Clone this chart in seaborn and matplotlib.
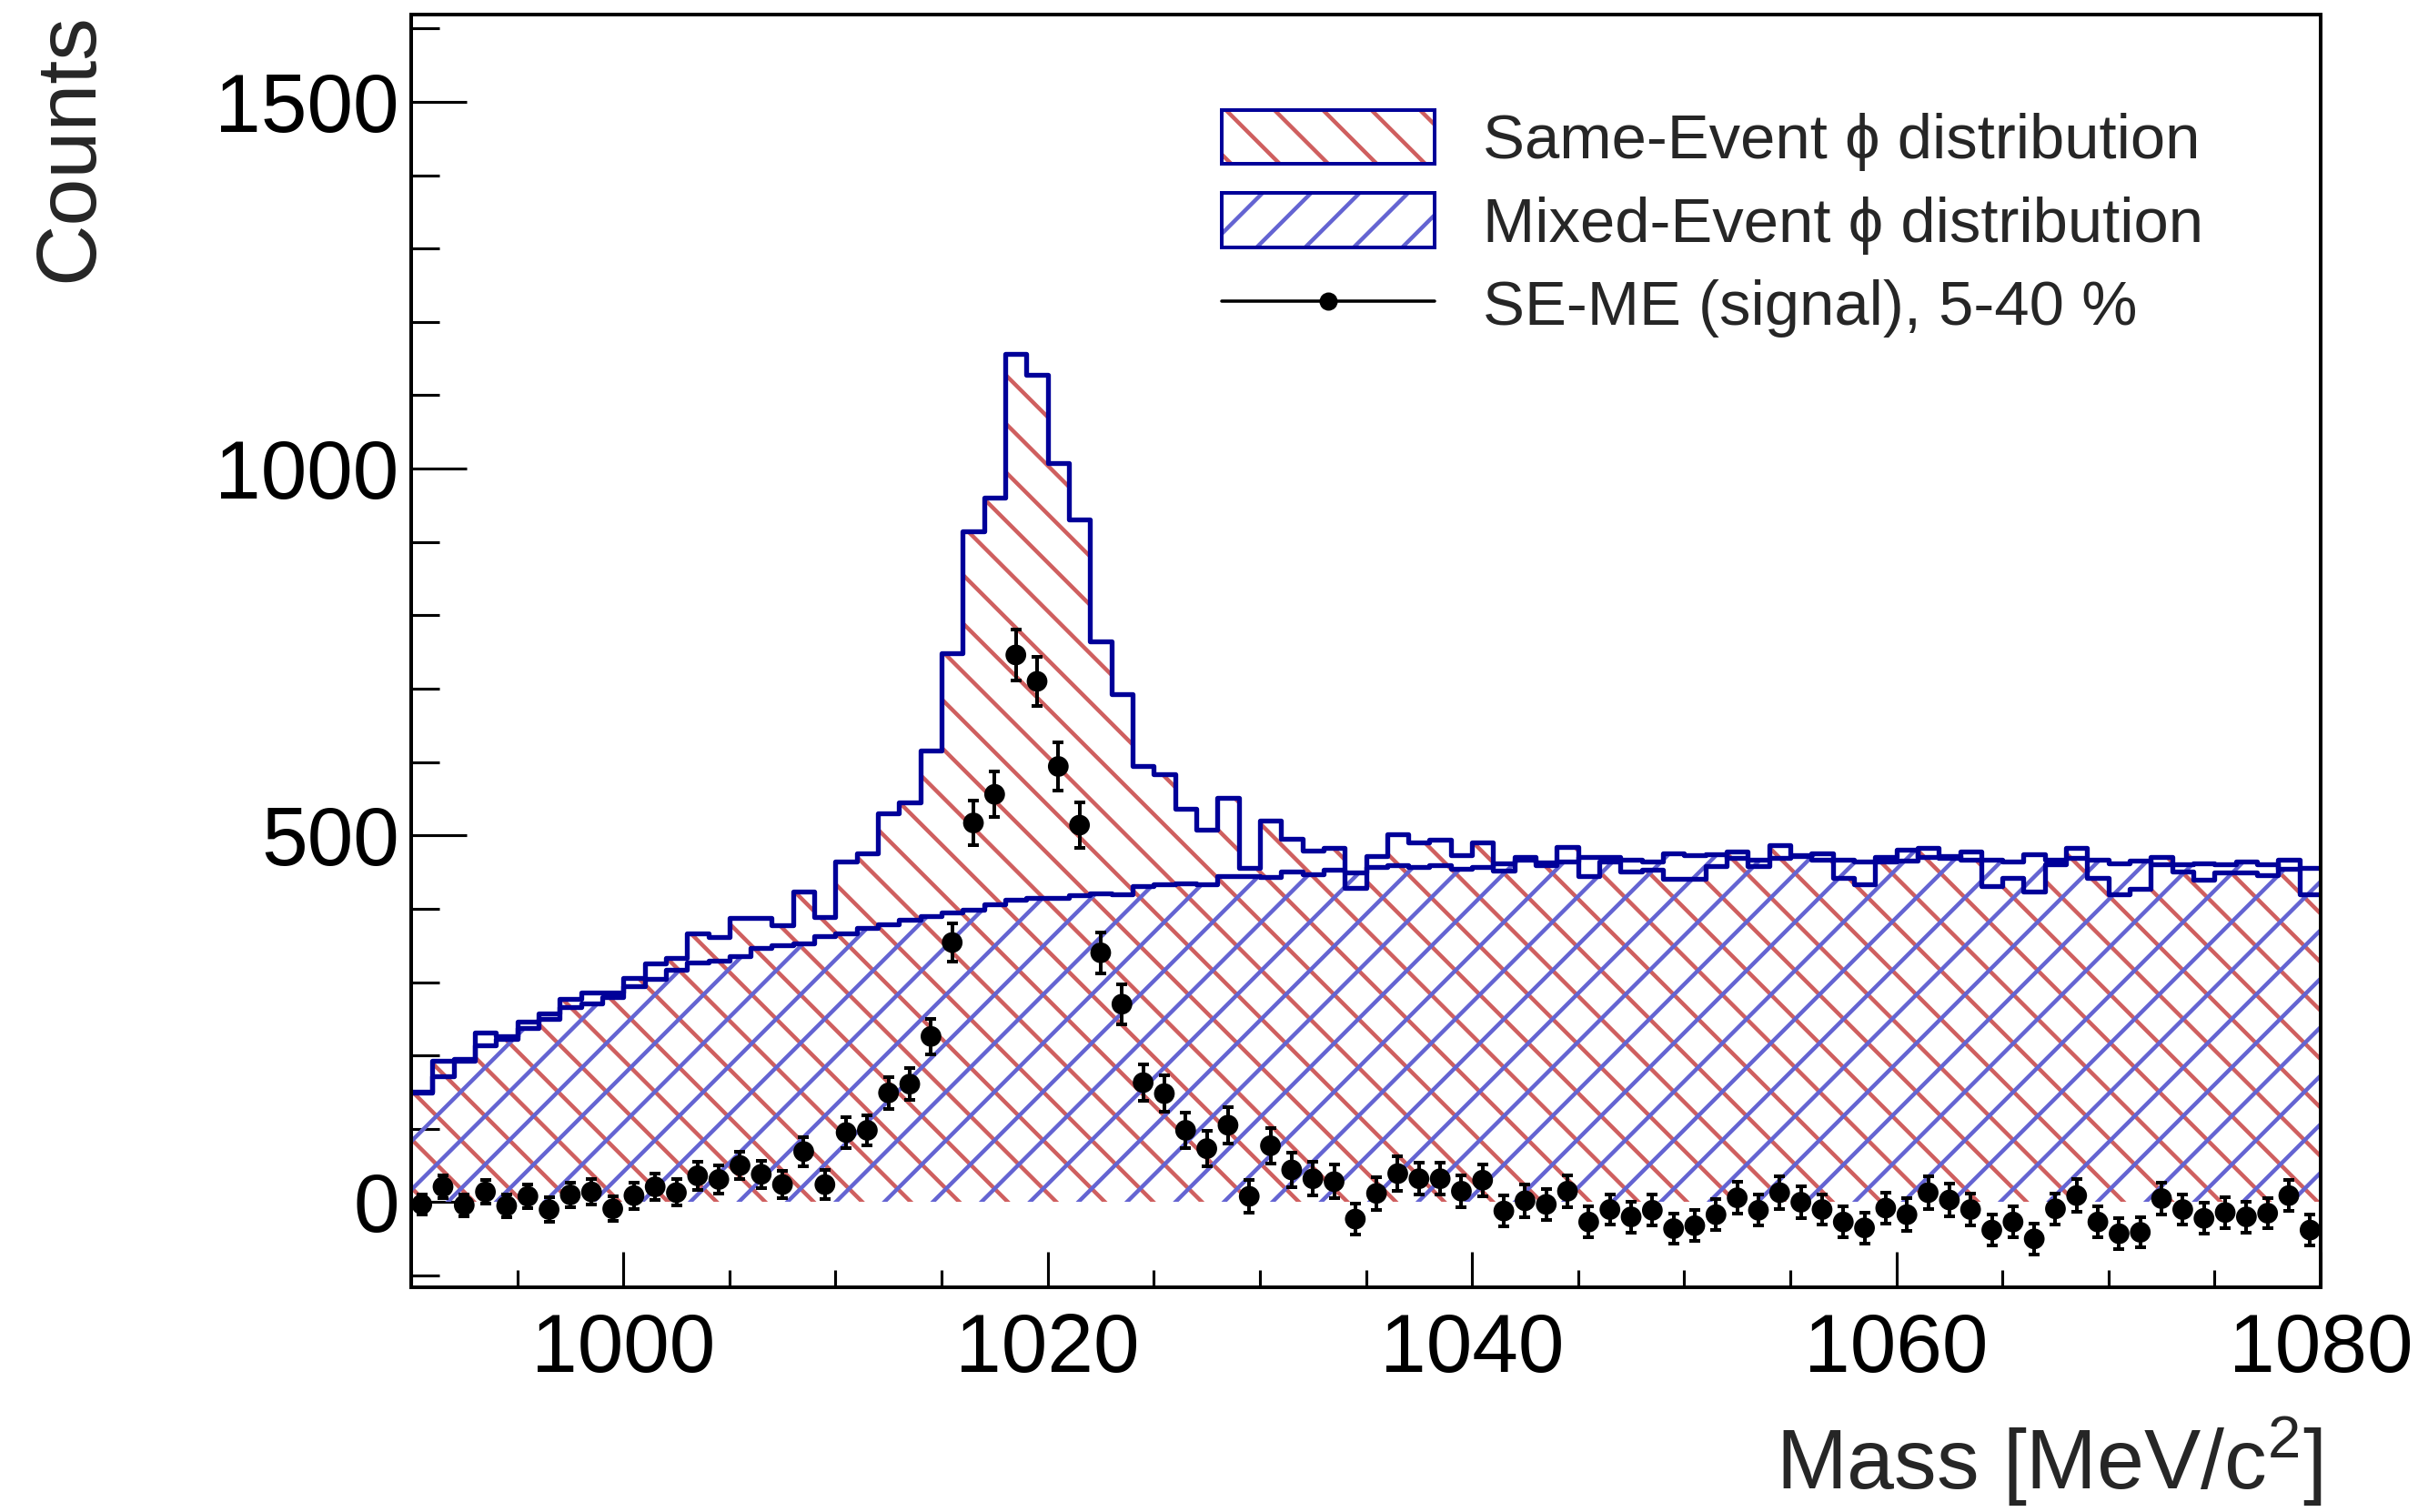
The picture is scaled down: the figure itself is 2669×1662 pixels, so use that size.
import numpy as np
import pandas as pd
import matplotlib
matplotlib.use("Agg")
import matplotlib.pyplot as plt
from matplotlib.patches import Patch
from matplotlib.lines import Line2D
from matplotlib.ticker import MultipleLocator
import seaborn as sns

# ---------------- data (1 MeV bins from 990 to 1080 MeV/c^2) ----------------
mass_low = 990
mass_high = 1080
bin_width = 1

same_event = [151, 193, 195, 231, 226, 246, 257, 277, 286, 286,
              306, 326, 333, 366, 362, 388, 388, 377, 424, 389,
              464, 475, 530, 545, 616, 748, 914, 961, 1157, 1128,
              1008, 931, 765, 693, 595, 584, 536, 508, 551, 456,
              520, 496, 479, 483, 429, 472, 502, 490, 494, 473,
              490, 452, 470, 460, 484, 445, 464, 451, 453, 441,
              441, 458, 478, 458, 487, 473, 467, 442, 433, 464,
              466, 483, 472, 467, 431, 442, 423, 461, 483, 442,
              420, 427, 470, 451, 440, 449, 450, 446, 467, 420]

mixed_event = [149, 172, 193, 214, 223, 237, 250, 266, 271, 280,
               295, 304, 317, 327, 329, 335, 346, 350, 353, 363,
               367, 374, 379, 385, 390, 395, 399, 406, 412, 415,
               415, 419, 421, 420, 431, 434, 435, 433, 445, 445,
               443, 451, 447, 453, 450, 457, 460, 457, 459, 455,
               457, 462, 467, 463, 464, 471, 470, 467, 464, 476,
               473, 474, 469, 467, 469, 472, 476, 467, 464, 470,
               481, 471, 469, 478, 467, 464, 474, 467, 469, 467,
               462, 466, 461, 461, 462, 461, 464, 461, 454, 456]

signal = [-3, 21, -4, 14, -5, 8, -10, 10, 14, -9,
          9, 21, 13, 36, 31, 50, 38, 24, 69, 24,
          95, 98, 149, 161, 226, 354, 517, 556, 746, 710,
          594, 514, 340, 270, 163, 148, 98, 73, 105, 8,
          77, 44, 32, 28, -23, 12, 39, 32, 32, 15,
          30, -12, 2, -3, 15, -27, -10, -20, -11, -36,
          -32, -17, 6, -11, 13, 0, -10, -27, -35, -8,
          -17, 13, 3, -10, -38, -27, -50, -9, 9, -27,
          -43, -41, 5, -10, -22, -14, -20, -15, 9, -38]

signal_err = [14, 15, 15, 16, 16, 16, 17, 17, 17, 17,
              18, 18, 18, 19, 19, 19, 19, 19, 20, 20,
              21, 21, 22, 22, 24, 26, 30, 31, 35, 34,
              33, 31, 28, 27, 25, 25, 24, 24, 25, 22,
              24, 23, 23, 23, 21, 22, 23, 22, 22, 22,
              22, 21, 22, 21, 22, 21, 21, 21, 21, 21,
              21, 21, 22, 21, 22, 22, 21, 21, 21, 21,
              22, 22, 22, 22, 21, 21, 21, 21, 22, 21,
              21, 21, 22, 21, 21, 21, 21, 21, 21, 21]

labels = ["Same-Event \u03d5 distribution",
          "Mixed-Event \u03d5 distribution",
          "SE-ME (signal), 5-40 %"]

# ---------------- styling ----------------
DPI = 160
RED_HATCH = "#cf5f5f"
BLUE_HATCH = "#6464d2"
LINE_BLUE = "#000099"
OUTLINE_LW = 2.4
HATCH_LW = 2.0

sns.set_style("ticks")
plt.rcParams["font.family"] = ["Liberation Sans", "DejaVu Sans"]
plt.rcParams["mathtext.fontset"] = "custom"
plt.rcParams["mathtext.rm"] = "Liberation Sans"
plt.rcParams["mathtext.it"] = "Liberation Sans"
plt.rcParams["hatch.linewidth"] = HATCH_LW

edges = np.arange(mass_low, mass_high + bin_width, bin_width)
centers = edges[:-1] + bin_width / 2
df = pd.DataFrame({"mass": centers, "same": same_event, "mixed": mixed_event,
                   "signal": signal, "err": signal_err})

fig = plt.figure(figsize=(2669 / DPI, 1662 / DPI), dpi=DPI)
ax = fig.add_axes([452 / 2669, 247 / 1662, 2099 / 2669, 1399 / 1662])

hist_kws = dict(binwidth=bin_width, binrange=(mass_low, mass_high), element="step")


def set_hlw(artist):
    if hasattr(artist, "set_hatch_linewidth"):
        artist.set_hatch_linewidth(HATCH_LW)


def hatched_hist(weights, color, hatch):
    n0 = len(ax.collections)
    sns.histplot(data=df, x="mass", weights=weights, fill=True, ax=ax,
                 alpha=1.0, **hist_kws)
    for coll in ax.collections[n0:]:
        coll.set_alpha(None)
        coll.set_facecolor("none")
        coll.set_edgecolor(color)
        coll.set_linewidth(0)
        coll.set_hatch(hatch)
        set_hlw(coll)
        coll.set_zorder(1)


hatched_hist("same", RED_HATCH, "\\")
hatched_hist("mixed", BLUE_HATCH, "/")

# outlines
for w in ["same", "mixed"]:
    sns.histplot(data=df, x="mass", weights=w, fill=False, ax=ax,
                 color=LINE_BLUE, linewidth=OUTLINE_LW, zorder=3, **hist_kws)

# signal points
ax.errorbar(df["mass"], df["signal"], yerr=df["err"], fmt="none", ecolor="black",
            elinewidth=1.8, capsize=2.6, capthick=1.8, zorder=5)
sns.scatterplot(data=df, x="mass", y="signal", color="black", s=105,
                edgecolor="none", linewidth=0, zorder=6, ax=ax, legend=False)

ax.set_xlim(mass_low, mass_high)
ax.set_ylim(-116, 1619)
ax.set_xlabel("")
ax.set_ylabel("")

ax.xaxis.set_major_locator(MultipleLocator(20))
ax.xaxis.set_minor_locator(MultipleLocator(5))
ax.yaxis.set_major_locator(MultipleLocator(500))
ax.yaxis.set_minor_locator(MultipleLocator(100))
ax.tick_params(axis="both", which="both", direction="in", top=False, right=False,
               width=1.4, colors="black")
ax.tick_params(axis="x", which="major", length=17.5, labelsize=41, pad=12)
ax.tick_params(axis="x", which="minor", length=8.6)
ax.tick_params(axis="y", which="major", length=27.5, labelsize=41, pad=6)
ax.tick_params(axis="y", which="minor", length=14)
for sp in ax.spines.values():
    sp.set_linewidth(1.8)
    sp.set_color("black")
    sp.set_visible(True)
    sp.set_zorder(7)

# axis titles (ROOT style: at the ends of the axes)
fig.text(77 / 2669, 1 - 14 / 1662, "Counts", rotation=90, ha="center", va="top",
         fontsize=42)
fig.text(2553 / 2669, 1 - 1607 / 1662, "Mass [MeV/c$^{2}$]", ha="right",
         va="center", fontsize=42)

# legend
p_se = Patch(facecolor="none", edgecolor=RED_HATCH, hatch="\\", linewidth=0)
p_me = Patch(facecolor="none", edgecolor=BLUE_HATCH, hatch="/", linewidth=0)
set_hlw(p_se)
set_hlw(p_me)
h_se = (p_se, Patch(facecolor="none", edgecolor=LINE_BLUE, linewidth=1.8))
h_me = (p_me, Patch(facecolor="none", edgecolor=LINE_BLUE, linewidth=1.8))
h_sig = Line2D([0], [0], color="black", lw=1.6, marker="o", markersize=8)
ax.legend([h_se, h_me, h_sig], labels, loc="upper left",
          bbox_to_anchor=(0.4245, 0.925), frameon=False, fontsize=31,
          handlelength=3.4, handleheight=0.95, handletextpad=0.77,
          labelspacing=0.35, borderpad=0, borderaxespad=0)

fig.savefig("out.png", dpi=DPI)
